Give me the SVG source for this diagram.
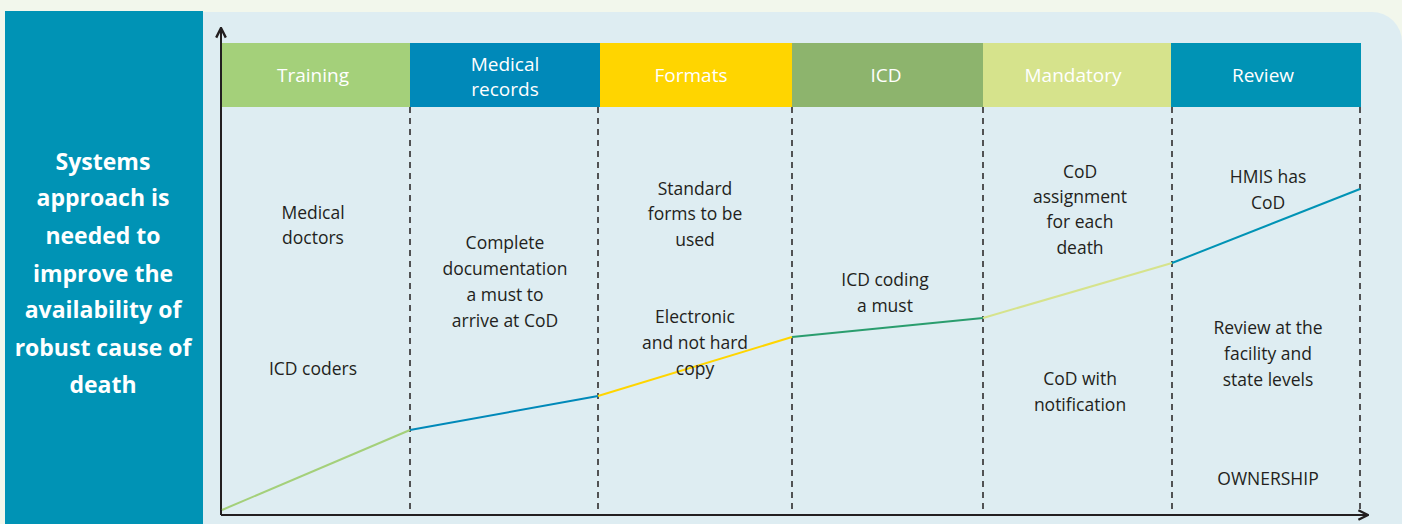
<svg xmlns="http://www.w3.org/2000/svg" width="1402" height="524" viewBox="0 0 1402 524">
<defs>
<style>
.hd{font-family:"Open Sans","Liberation Sans",sans-serif;font-size:19px;fill:#ffffff;text-anchor:middle}
.bt{font-family:"Open Sans","Liberation Sans",sans-serif;font-size:17.5px;fill:#231f20;text-anchor:middle}
.lt{font-family:"Open Sans","Liberation Sans",sans-serif;font-size:23px;font-weight:bold;fill:#ffffff;text-anchor:middle}
.dash{stroke:#231f20;stroke-width:1.5;stroke-dasharray:6,5;fill:none}
.ax{stroke:#231f20;stroke-width:2;fill:none}
</style>
<marker id="ah" viewBox="0 0 10 10" refX="9" refY="5" markerWidth="6" markerHeight="6" orient="auto">
<path d="M1,1 L9,5 L1,9" fill="none" stroke="#231f20" stroke-width="2"/>
</marker>
</defs>
<rect x="0" y="0" width="1402" height="524" fill="#f2f7ec"/>
<path d="M203,12 H1372 A30,30 0 0 1 1402,42 V524 H203 Z" fill="#deedf2"/>
<g id="left-panel">
<rect x="5" y="11" width="198" height="513" fill="#0093b5"/>
<text class="lt" x="103" y="170">Systems</text>
<text class="lt" x="103" y="206">approach is</text>
<text class="lt" x="103" y="244">needed to</text>
<text class="lt" x="103" y="282">improve the</text>
<text class="lt" x="103" y="318">availability of</text>
<text class="lt" x="103" y="356">robust cause of</text>
<text class="lt" x="103" y="393">death</text>
</g>
<g id="headers">
<g id="h-training"><rect x="222" y="43" width="188" height="64" fill="#a4d07a"/><text class="hd" x="313" y="82">Training</text></g>
<g id="h-medical"><rect x="410" y="43" width="190" height="64" fill="#0089b9"/><text class="hd" x="505" y="71">Medical</text><text class="hd" x="505" y="96">records</text></g>
<g id="h-formats"><rect x="600" y="43" width="192" height="64" fill="#ffd500"/><text class="hd" x="691" y="82">Formats</text></g>
<g id="h-icd"><rect x="792" y="43" width="191" height="64" fill="#8db46d"/><text class="hd" x="886" y="82">ICD</text></g>
<g id="h-mandatory"><rect x="983" y="43" width="188" height="64" fill="#d6e38c"/><text class="hd" x="1073" y="82">Mandatory</text></g>
<g id="h-review"><rect x="1171" y="43" width="190" height="64" fill="#0093b5"/><text class="hd" x="1263" y="82">Review</text></g>
</g>
<g id="connectors">
<line class="ax" x1="221" y1="515" x2="221" y2="28" marker-end="url(#ah)"/>
<line class="ax" x1="221" y1="515" x2="1368" y2="515" marker-end="url(#ah)"/>
<line class="dash" x1="410" y1="107" x2="410" y2="514"/>
<line class="dash" x1="598" y1="107" x2="598" y2="514"/>
<line class="dash" x1="792" y1="107" x2="792" y2="514"/>
<line class="dash" x1="983" y1="107" x2="983" y2="514"/>
<line class="dash" x1="1172" y1="107" x2="1172" y2="514"/>
<line class="dash" x1="1360" y1="107" x2="1360" y2="514"/>
<line x1="222" y1="510" x2="410" y2="430" stroke="#a4d07a" stroke-width="2"/>
<line x1="410" y1="430" x2="598" y2="396" stroke="#0089b9" stroke-width="2"/>
<line x1="598" y1="396" x2="792" y2="337" stroke="#ffd500" stroke-width="2"/>
<line x1="792" y1="337" x2="983" y2="318" stroke="#2a9d6e" stroke-width="2"/>
<line x1="983" y1="318" x2="1172" y2="263" stroke="#d6e38c" stroke-width="2"/>
<line x1="1172" y1="263" x2="1360" y2="189" stroke="#0093b5" stroke-width="2"/>
</g>
<g id="col-training">
<text class="bt" x="313" y="219">Medical</text>
<text class="bt" x="313" y="244">doctors</text>
<text class="bt" x="313" y="375">ICD coders</text>
</g>
<g id="col-medical">
<text class="bt" x="505" y="249">Complete</text>
<text class="bt" x="505" y="275">documentation</text>
<text class="bt" x="505" y="301">a must to</text>
<text class="bt" x="505" y="327">arrive at CoD</text>
</g>
<g id="col-formats">
<text class="bt" x="695" y="195">Standard</text>
<text class="bt" x="695" y="220">forms to be</text>
<text class="bt" x="695" y="246">used</text>
<text class="bt" x="695" y="323">Electronic</text>
<text class="bt" x="695" y="349">and not hard</text>
<text class="bt" x="695" y="375">copy</text>
</g>
<g id="col-icd">
<text class="bt" x="885" y="286">ICD coding</text>
<text class="bt" x="885" y="312">a must</text>
</g>
<g id="col-mandatory">
<text class="bt" x="1080" y="178">CoD</text>
<text class="bt" x="1080" y="203">assignment</text>
<text class="bt" x="1080" y="228">for each</text>
<text class="bt" x="1080" y="254">death</text>
<text class="bt" x="1080" y="385">CoD with</text>
<text class="bt" x="1080" y="411">notification</text>
</g>
<g id="col-review">
<text class="bt" x="1268" y="183">HMIS has</text>
<text class="bt" x="1268" y="209">CoD</text>
<text class="bt" x="1268" y="334">Review at the</text>
<text class="bt" x="1268" y="360">facility and</text>
<text class="bt" x="1268" y="386">state levels</text>
<text class="bt" x="1268" y="485">OWNERSHIP</text>
</g>
</svg>
